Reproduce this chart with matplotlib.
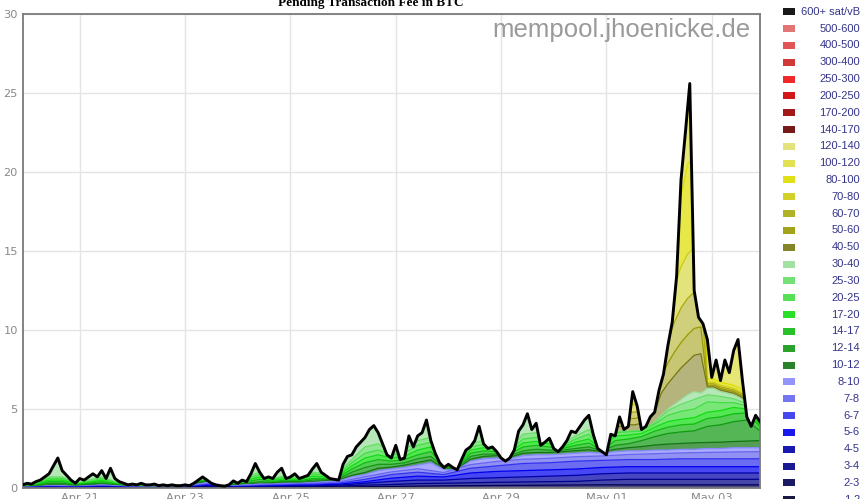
import matplotlib
matplotlib.use("Agg")
import matplotlib.dates as mdates
import matplotlib.pyplot as plt
import numpy as np
import pandas as pd
from matplotlib.colors import to_rgb
from matplotlib.patches import Polygon, Rectangle

# ---------------------------------------------------------------------------
# values (BTC, cumulative per fee band)
# ---------------------------------------------------------------------------
t_total = pd.date_range("2023-04-19 22:00", periods=169, freq="2h")
total_btc = [
    0.2, 0.3, 0.25, 0.4, 0.5, 0.7, 0.9, 1.4, 1.9, 1.1,
    0.8, 0.5, 0.3, 0.6, 0.5, 0.7, 0.9, 0.7, 1.1, 0.6,
    1.25, 0.6, 0.4, 0.3, 0.2, 0.25, 0.2, 0.3, 0.2, 0.2,
    0.25, 0.15, 0.2, 0.15, 0.2, 0.15, 0.15, 0.2, 0.15, 0.3,
    0.5, 0.7, 0.5, 0.3, 0.2, 0.15, 0.12, 0.2, 0.45, 0.3,
    0.5, 0.4, 0.9, 1.55, 1.0, 0.6, 0.7, 0.6, 1.0, 1.25,
    0.6, 0.7, 0.9, 0.6, 0.7, 0.8, 1.2, 1.55, 1.0, 0.8,
    0.6, 0.55, 0.5, 1.5, 2.0, 2.1, 2.6, 2.9, 3.2, 3.7,
    3.95, 3.5, 2.8, 2.1, 1.9, 2.7, 1.8, 1.9, 3.3, 2.6,
    3.3, 3.5, 4.3, 3.0, 2.2, 1.6, 1.3, 1.5, 1.3, 1.15,
    1.8, 2.4, 2.6, 3.0, 3.9, 2.8, 2.5, 2.6, 2.3, 1.9,
    1.7, 1.9, 2.4, 3.6, 4.0, 4.7, 3.7, 4.1, 2.7, 2.9,
    3.15, 2.5, 2.3, 2.6, 3.0, 3.6, 3.5, 3.9, 4.3, 4.6,
    3.4, 2.5, 2.3, 2.1, 3.4, 3.3, 4.5, 3.7, 3.9, 6.1,
    5.2, 3.7, 3.9, 4.5, 4.8, 6.2, 7.2, 9.0, 10.5, 13.4,
    19.5, 22.5, 25.6, 12.5, 10.8, 10.4, 9.4, 7.0, 8.1, 6.8,
    8.1, 7.3, 8.7, 9.4, 6.8, 4.5, 3.9, 4.6, 4.2,
]

# green / light-blue band tops, 6-hourly
t_band = pd.date_range("2023-04-19 22:00", periods=57, freq="6h")
upto_10 = [
    0.05, 0.08, 0.15, 0.15, 0.1, 0.15, 0.2, 0.15, 0.08, 0.06,
    0.05, 0.05, 0.05, 0.2, 0.35, 0.1, 0.15, 0.2, 0.25, 0.25,
    0.3, 0.3, 0.35, 0.4, 0.45, 0.7, 0.85, 1.1, 1.2, 1.3,
    1.45, 1.6, 1.15, 1.15, 1.7, 1.85, 1.9, 1.85, 2.05, 2.1,
    2.1, 2.15, 2.2, 2.25, 2.2, 2.3, 2.35, 2.35, 2.4, 2.4,
    2.45, 2.45, 2.5, 2.5, 2.55, 2.55, 2.55,
]
upto_12 = [
    0.08, 0.11, 0.2, 0.2, 0.13, 0.2, 0.25, 0.18, 0.1, 0.08,
    0.07, 0.07, 0.07, 0.25, 0.42, 0.13, 0.2, 0.25, 0.3, 0.3,
    0.35, 0.35, 0.4, 0.46, 0.52, 0.8, 0.98, 1.25, 1.32, 1.45,
    1.62, 1.78, 1.22, 1.2, 1.82, 2.0, 2.05, 1.95, 2.2, 2.25,
    2.25, 2.3, 2.36, 2.42, 2.3, 2.45, 2.55, 2.62, 2.72, 2.78,
    2.82, 2.86, 2.88, 2.9, 2.94, 2.97, 3.0,
]
upto_14 = [
    0.1, 0.14, 0.3, 0.3, 0.16, 0.25, 0.3, 0.22, 0.12, 0.1,
    0.09, 0.09, 0.09, 0.3, 0.45, 0.15, 0.22, 0.3, 0.4, 0.35,
    0.42, 0.4, 0.5, 0.52, 0.6, 1.0, 1.3, 1.5, 1.5, 1.6,
    1.85, 2.0, 1.3, 1.25, 2.0, 2.15, 2.15, 2.05, 2.35, 2.45,
    2.4, 2.4, 2.5, 2.6, 2.35, 2.7, 2.8, 3.0, 3.25, 3.45,
    3.55, 3.62, 3.9, 4.0, 4.2, 4.3, 3.6,
]
upto_17 = [
    0.12, 0.18, 0.4, 0.4, 0.2, 0.3, 0.4, 0.26, 0.14, 0.12,
    0.11, 0.1, 0.1, 0.35, 0.48, 0.17, 0.25, 0.4, 0.55, 0.42,
    0.5, 0.46, 0.6, 0.6, 0.7, 1.2, 1.6, 1.8, 1.7, 1.8,
    2.1, 2.3, 1.4, 1.3, 2.2, 2.35, 2.3, 2.15, 2.6, 2.7,
    2.6, 2.5, 2.7, 2.85, 2.4, 3.0, 3.1, 3.25, 3.6, 3.85,
    4.0, 4.05, 4.4, 4.5, 4.7, 4.75, 3.9,
]
upto_20 = [
    0.14, 0.22, 0.5, 0.5, 0.24, 0.35, 0.5, 0.3, 0.16, 0.14,
    0.13, 0.11, 0.11, 0.4, 0.5, 0.19, 0.28, 0.5, 0.7, 0.5,
    0.6, 0.52, 0.75, 0.7, 0.8, 1.4, 1.9, 2.1, 1.9, 2.0,
    2.4, 2.6, 1.5, 1.35, 2.4, 2.55, 2.45, 2.25, 2.85, 2.95,
    2.8, 2.6, 2.9, 3.1, 2.45, 3.3, 3.35, 3.45, 3.85, 4.2,
    4.35, 4.45, 4.8, 4.9, 5.1, 5.0, 4.0,
]
upto_25 = [
    0.16, 0.26, 0.6, 0.6, 0.28, 0.4, 0.6, 0.35, 0.18, 0.16,
    0.15, 0.12, 0.12, 0.45, 0.52, 0.21, 0.31, 0.6, 0.85, 0.55,
    0.7, 0.58, 0.9, 0.8, 0.9, 1.6, 2.2, 2.4, 2.1, 2.2,
    2.7, 2.9, 1.6, 1.4, 2.6, 2.75, 2.6, 2.35, 3.1, 3.2,
    3.0, 2.7, 3.1, 3.4, 2.5, 3.5, 3.55, 3.6, 4.05, 4.6,
    4.85, 5.0, 5.45, 5.4, 5.4, 5.2, 4.1,
]
upto_30 = [
    0.18, 0.3, 0.7, 0.7, 0.3, 0.5, 0.7, 0.4, 0.2, 0.18,
    0.17, 0.13, 0.13, 0.5, 0.55, 0.23, 0.35, 0.7, 1.0, 0.6,
    0.8, 0.65, 1.0, 0.9, 1.0, 1.8, 2.6, 2.8, 2.3, 2.4,
    3.0, 3.2, 1.7, 1.5, 2.8, 3.0, 2.75, 2.45, 3.4, 3.5,
    3.2, 2.8, 3.3, 3.7, 2.55, 3.55, 3.6, 3.65, 4.15, 4.9,
    5.3, 5.6, 5.9, 5.8, 5.65, 5.35, 4.2,
]

# dark-blue band tops, 12-hourly
t_blue = pd.date_range("2023-04-19 22:00", periods=29, freq="12h")
upto_8 = [
    0.04, 0.12, 0.08, 0.16, 0.06, 0.04, 0.04, 0.28, 0.12, 0.2,
    0.25, 0.3, 0.38, 0.72, 1.02, 1.22, 0.98, 1.48, 1.68, 1.82,
    1.88, 1.98, 2.03, 2.12, 2.17, 2.22, 2.25, 2.28, 2.3,
]
upto_7 = [
    0.03, 0.09, 0.06, 0.12, 0.05, 0.03, 0.03, 0.22, 0.09, 0.15,
    0.2, 0.24, 0.3, 0.55, 0.85, 1.0, 0.85, 1.25, 1.4, 1.55,
    1.6, 1.7, 1.75, 1.8, 1.8, 1.85, 1.85, 1.85, 1.85,
]
upto_6 = [
    0.02, 0.07, 0.05, 0.09, 0.04, 0.02, 0.02, 0.17, 0.07, 0.11,
    0.15, 0.18, 0.24, 0.4, 0.62, 0.75, 0.7, 0.95, 1.05, 1.1,
    1.15, 1.2, 1.3, 1.35, 1.35, 1.35, 1.35, 1.35, 1.35,
]
upto_5 = [
    0.015, 0.05, 0.03, 0.06, 0.03, 0.015, 0.015, 0.12, 0.05, 0.08,
    0.1, 0.13, 0.18, 0.3, 0.42, 0.5, 0.5, 0.6, 0.65, 0.7,
    0.75, 0.8, 0.9, 0.95, 0.95, 0.95, 0.95, 0.95, 0.95,
]
upto_4 = [
    0.01, 0.03, 0.02, 0.04, 0.02, 0.01, 0.01, 0.08, 0.03, 0.05,
    0.07, 0.09, 0.12, 0.18, 0.22, 0.28, 0.3, 0.33, 0.36, 0.38,
    0.4, 0.42, 0.5, 0.55, 0.55, 0.55, 0.55, 0.55, 0.55,
]
upto_3 = [
    0.005, 0.015, 0.01, 0.02, 0.01, 0.005, 0.005, 0.04, 0.015, 0.025,
    0.035, 0.045, 0.06, 0.08, 0.1, 0.12, 0.14, 0.15, 0.16, 0.17,
    0.18, 0.19, 0.2, 0.2, 0.2, 0.2, 0.2, 0.2, 0.2,
]

# olive / yellow band tops during the May spike, 3-hourly
t_win = pd.date_range("2023-04-30 22:00", periods=25, freq="3h")
upto_40 = [3.5, 3.5, 3.6, 3.6, 3.6, 3.6, 3.7, 3.8, 4.2, 4.6, 5.0, 5.3, 5.6,
           5.9, 6.1, 6.0, 6.3, 6.3, 6.1, 6.0, 5.9, 5.7, 5.4, 4.4, 4.3]
upto_50 = [3.8, 3.8, 3.9, 3.9, 4.0, 4.0, 4.1, 4.3, 4.8, 6.0, 6.6, 7.1, 7.6,
           8.0, 8.4, 8.5, 6.4, 6.4, 6.2, 6.1, 6.0, 5.8, 5.5, 4.5, 4.4]
upto_60 = [4.1, 4.1, 4.2, 4.2, 4.4, 4.4, 4.5, 4.7, 5.2, 7.0, 7.9, 8.6, 9.2,
           9.7, 10.1, 10.2, 6.5, 6.5, 6.3, 6.2, 6.1, 5.9, 5.6, 4.6, 4.5]
upto_70 = [4.4, 4.4, 4.5, 4.5, 4.8, 4.8, 4.9, 5.1, 5.6, 7.6, 9.2, 10.5, 11.4,
           12.0, 12.4, 12.5, 6.6, 6.6, 6.4, 6.3, 6.2, 6.0, 5.7, 4.7, 4.6]
upto_80 = [4.7, 4.7, 4.8, 4.9, 5.2, 5.3, 5.4, 5.6, 6.0, 8.4, 11.0, 12.8, 14.0,
           14.8, 15.2, 15.3, 6.7, 6.7, 6.5, 6.4, 6.3, 6.1, 5.8, 4.8, 4.7]
upto_100 = [5.0, 5.0, 5.2, 5.4, 5.7, 5.9, 6.0, 6.3, 7.0, 10.0, 13.0, 16.0, 18.5,
            20.5, 21.0, 21.0, 6.9, 6.9, 6.7, 6.6, 6.5, 6.3, 6.0, 5.0, 4.9]

band_labels = [
    "600+ sat/vB", "500-600", "400-500", "300-400", "250-300", "200-250",
    "170-200", "140-170", "120-140", "100-120", "80-100", "70-80", "60-70",
    "50-60", "40-50", "30-40", "25-30", "20-25", "17-20", "14-17", "12-14",
    "10-12", "8-10", "7-8", "6-7", "5-6", "4-5", "3-4", "2-3", "1-2",
]
band_colors = [
    "#000000", "#e06666", "#dd4444", "#cc2222", "#ee1111", "#cc0000",
    "#990000", "#660000", "#e0e070", "#dede40", "#dddd00", "#cccc11",
    "#aaaa11", "#999900", "#777711", "#99dd99", "#66dd66", "#44dd44",
    "#11dd11", "#11bb11", "#119911", "#117711", "#8888ff", "#6666ee",
    "#3333ee", "#0000ee", "#0000aa", "#000088", "#000055", "#000033",
]
band_color = dict(zip(band_labels, band_colors))
olive_bands = {"40-50", "50-60", "60-70", "70-80"}


def fill_of(label):
    alpha = 0.55 if label in olive_bands else 0.72
    rgb = np.array(to_rgb(band_color[label]))
    return tuple(alpha * rgb + (1 - alpha))


def num(times):
    return mdates.date2num(times.to_pydatetime())


fig = plt.figure(figsize=(8.65, 4.99), dpi=100)
ax = fig.add_axes([22.7 / 865, 11 / 499, (760 - 22.7) / 865, 474 / 499])

# whole pending amount, used as clip region for every band
tx = num(t_total)
verts = np.column_stack([np.r_[tx[0], tx, tx[-1]], np.r_[0.0, total_btc, 0.0]])
base = Polygon(verts, closed=True, facecolor=fill_of("30-40"),
               edgecolor="none", zorder=2)
ax.add_patch(base)


def draw_band(times, top, label):
    coll = ax.fill_between(num(times), 0, top, facecolor=fill_of(label),
                           edgecolor="none", zorder=2)
    coll.set_clip_path(base)
    (line,) = ax.plot(num(times), top, color=band_color[label], lw=0.9, zorder=2)
    line.set_clip_path(base)


# top of the spike: 100-120 band fills everything above the olive bands
top = ax.fill_between(num(t_win), 0, 30, facecolor=fill_of("100-120"),
                      edgecolor="none", zorder=2)
top.set_clip_path(base)

for arr, label in [(upto_100, "80-100"), (upto_80, "70-80"), (upto_70, "60-70"),
                   (upto_60, "50-60"), (upto_50, "40-50"), (upto_40, "30-40")]:
    draw_band(t_win, arr, label)

for arr, label in [(upto_30, "25-30"), (upto_25, "20-25"), (upto_20, "17-20"),
                   (upto_17, "14-17"), (upto_14, "12-14"), (upto_12, "10-12"),
                   (upto_10, "8-10")]:
    draw_band(t_band, arr, label)

for arr, label in [(upto_8, "7-8"), (upto_7, "6-7"), (upto_6, "5-6"),
                   (upto_5, "4-5"), (upto_4, "3-4"), (upto_3, "2-3")]:
    draw_band(t_blue, arr, label)

ax.plot(tx, total_btc, color="black", lw=2.1, zorder=4, solid_joinstyle="round")

# axes styling
ax.set_xlim(tx[0], tx[-1])
ax.set_ylim(0, 30)
ax.set_yticks(range(0, 31, 5))
ax.xaxis.set_major_locator(mdates.DayLocator(bymonthday=range(1, 32, 2)))
ax.xaxis.set_major_formatter(mdates.DateFormatter("%b %d"))
ax.grid(True, color="#e4e4e4", lw=1.0)
ax.set_axisbelow(True)
ax.tick_params(length=0, labelsize=8.2, labelcolor="#888888", pad=3.5)
for spine in ax.spines.values():
    spine.set_color("#7a7a7a")
    spine.set_linewidth(1.3)

fig.text(371 / 865, 1 - 6 / 499, "Pending Transaction Fee in BTC",
         ha="center", va="baseline", fontsize=9.5, fontweight="bold",
         family="Liberation Serif")
fig.text(750 / 865, 1 - 37.3 / 499, "mempool.jhoenicke.de", ha="right",
         va="baseline", fontsize=18.5, color="#9a9a9a", family="Liberation Sans")

# legend column on the right
for k, label in enumerate(band_labels):
    yc = 1 - (11.7 + 16.83 * k) / 499
    fig.patches.append(Rectangle((783 / 865, yc - 3.5 / 499), 12 / 865, 7 / 499,
                                 transform=fig.transFigure,
                                 facecolor=band_color[label], alpha=0.9,
                                 edgecolor="none"))
    fig.text(860 / 865, yc, label, ha="right", va="center", fontsize=8,
             color="#34348a", family="Liberation Sans")

fig.savefig("out.png", dpi=100)
